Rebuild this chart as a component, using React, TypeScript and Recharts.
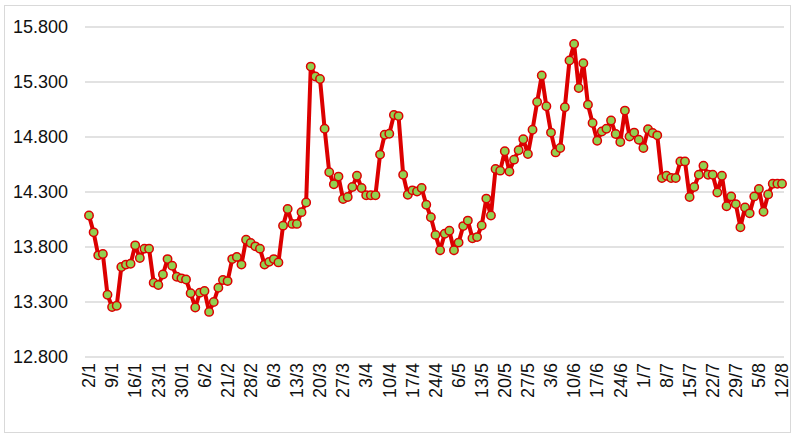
import { LineChart, Line, XAxis, YAxis, CartesianGrid } from "recharts"

// tick labels, one every 5 trading days
const dateLabels = [
  "2/1", "9/1", "16/1", "23/1", "30/1", "6/2", "21/2", "28/2", "6/3", "13/3", "20/3",
  "27/3", "3/4", "10/4", "17/4", "24/4", "6/5", "13/5", "20/5", "27/5", "3/6", "10/6",
  "17/6", "24/6", "1/7", "8/7", "15/7", "22/7", "29/7", "5/8", "12/8",
]

const prices = [
  14.087, 13.933, 13.724, 13.736, 13.366, 13.255, 13.266, 13.618, 13.64, 13.648,
  13.815, 13.7, 13.785, 13.785, 13.476, 13.455, 13.55, 13.69, 13.63, 13.53,
  13.515, 13.505, 13.38, 13.25, 13.385, 13.4, 13.21, 13.3, 13.43, 13.5,
  13.49, 13.69, 13.71, 13.64, 13.866, 13.836, 13.806, 13.785, 13.64, 13.665,
  13.69, 13.66, 13.994, 14.146, 14.01, 14.01, 14.117, 14.205, 15.44, 15.35,
  15.327, 14.875, 14.48, 14.37, 14.44, 14.236, 14.254, 14.345, 14.448, 14.336,
  14.27, 14.27, 14.27, 14.64, 14.82, 14.83, 15.0, 14.99, 14.457, 14.275,
  14.315, 14.305, 14.336, 14.184, 14.07, 13.91, 13.77, 13.92, 13.948, 13.77,
  13.84, 13.99, 14.04, 13.88, 13.89, 13.996, 14.24, 14.087, 14.51, 14.494,
  14.67, 14.487, 14.594, 14.68, 14.78, 14.645, 14.866, 15.118, 15.36, 15.08,
  14.84, 14.66, 14.7, 15.07, 15.496, 15.645, 15.245, 15.47, 15.094, 14.927,
  14.766, 14.85, 14.875, 14.95, 14.827, 14.755, 15.04, 14.805, 14.84, 14.775,
  14.7, 14.87, 14.836, 14.815, 14.427, 14.448, 14.427, 14.427, 14.578, 14.578,
  14.254, 14.345, 14.457, 14.539, 14.457, 14.457, 14.296, 14.448, 14.17, 14.26,
  14.19, 13.98, 14.16, 14.106, 14.26, 14.327, 14.12, 14.278, 14.375, 14.375,
  14.375,
]

const yTicks = [12.8, 13.3, 13.8, 14.3, 14.8, 15.3, 15.8]

const data = prices.map((v, i) => ({ day: i, price: v }))

const FONT = "'Liberation Sans', Arial, sans-serif"

function DateTick({ x, y, payload }: any) {
  const i = payload.value as number
  if (i % 5 !== 0) return null
  return (
    <text
      x={x}
      y={y}
      transform={`rotate(-90, ${x}, ${y})`}
      textAnchor="end"
      dy="0.35em"
      fontSize={18}
      fontFamily={FONT}
      fill="#111"
    >
      {dateLabels[i / 5]}
    </text>
  )
}

export default function App() {
  return (
    <div style={{ position: "fixed", left: 0, top: 0, width: 796, height: 436, background: "#fff" }}>
      <div
        style={{
          position: "absolute",
          left: 4,
          top: 5,
          width: 785,
          height: 426,
          border: "1px solid #d9d9d9",
        }}
      />
      <LineChart
        width={796}
        height={436}
        data={data}
        margin={{ top: 27, right: 12, left: 0, bottom: 9 }}
        style={{ position: "absolute", left: 0, top: 0 }}
      >
        <CartesianGrid vertical={false} stroke="#d9d9d9" strokeWidth={1.5} />
        <XAxis
          dataKey="day"
          interval={4}
          height={70}
          padding={{ left: 4, right: 2 }}
          axisLine={false}
          tickLine={false}
          tickSize={0}
          tickMargin={6}
          tick={<DateTick />}
        />
        <YAxis
          domain={[12.8, 15.8]}
          ticks={yTicks}
          width={85}
          axisLine={false}
          tickLine={false}
          tickMargin={11}
          tickFormatter={(v: number) => v.toFixed(3)}
          tick={{ fontSize: 18, fontFamily: FONT, fill: "#111" }}
        />
        <Line
          type="linear"
          dataKey="price"
          stroke="#dc0000"
          strokeWidth={4}
          strokeLinejoin="round"
          dot={{ r: 4.2, fill: "#92d050", stroke: "#dc0000", strokeWidth: 1.5 }}
          isAnimationActive={false}
        />
      </LineChart>
    </div>
  )
}
